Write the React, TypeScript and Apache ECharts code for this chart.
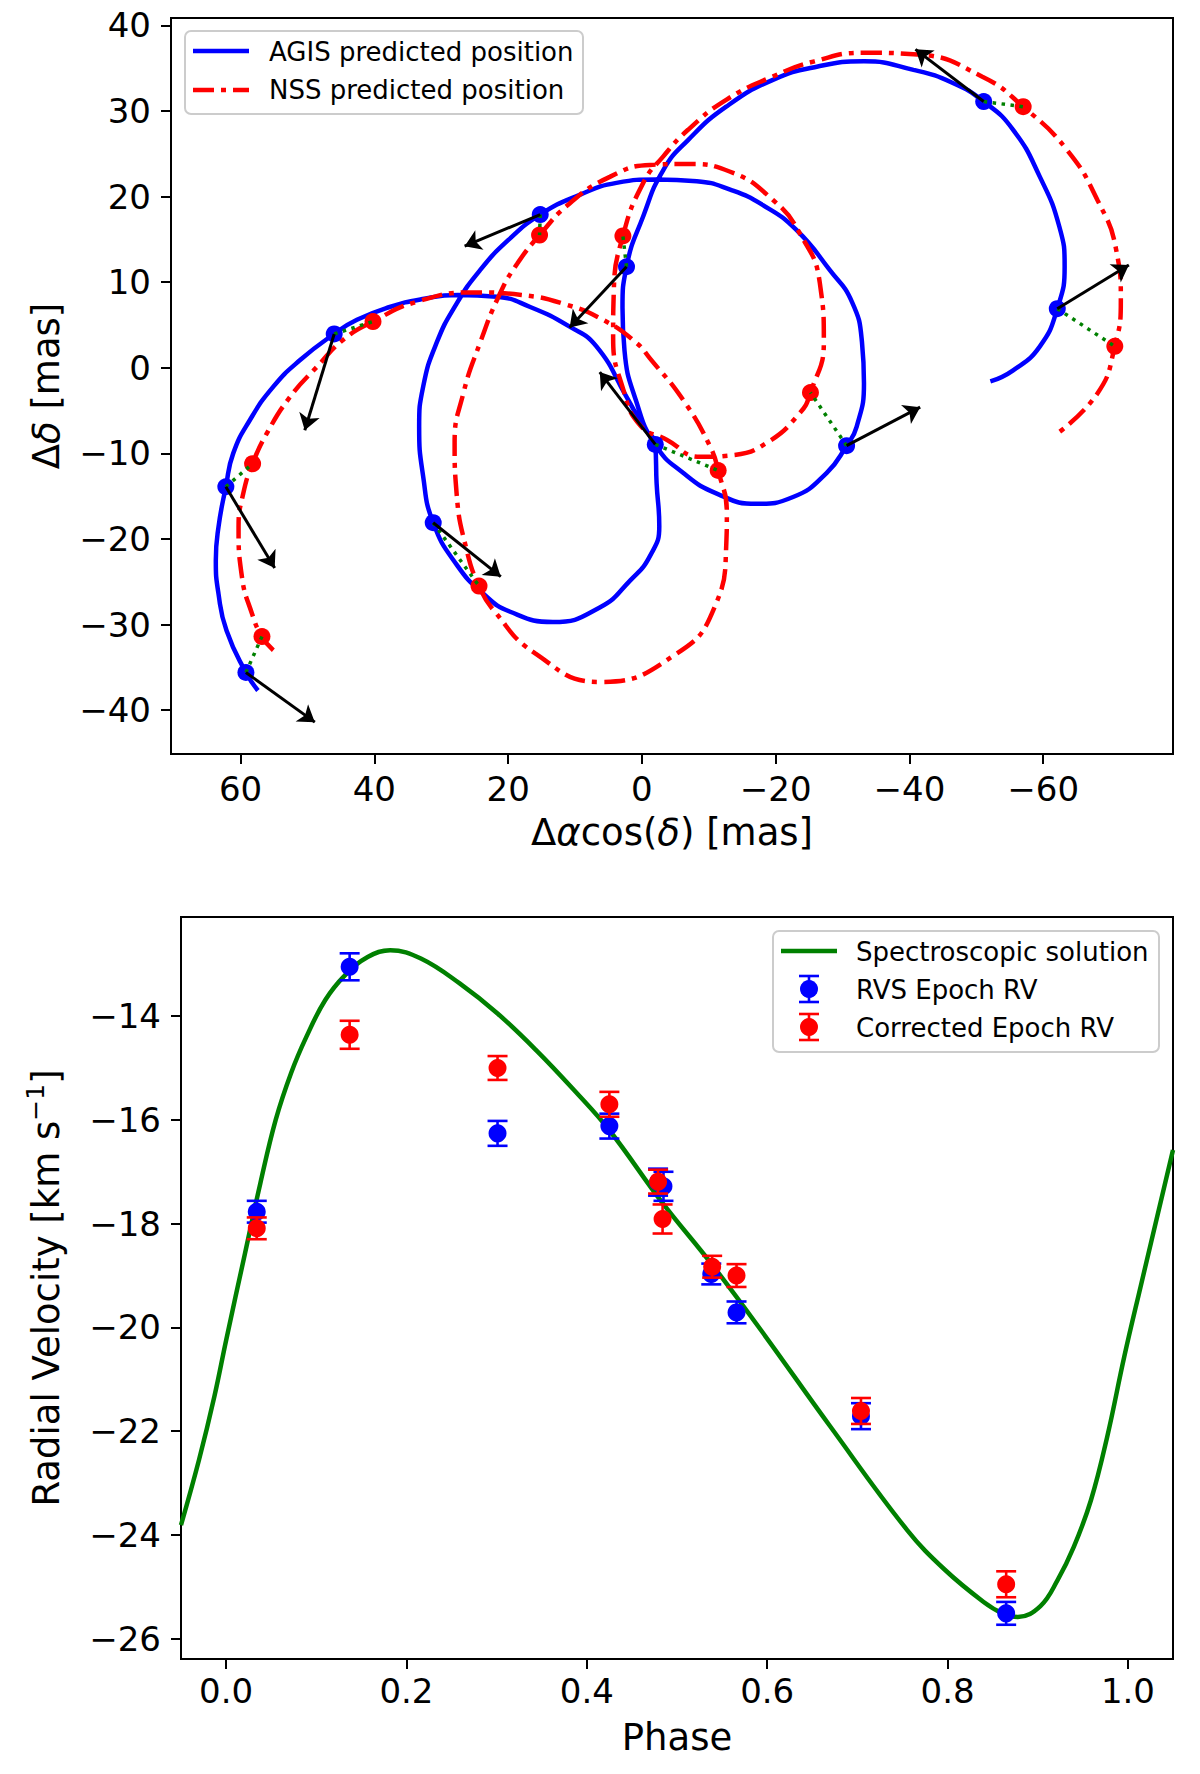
import { useEffect, useRef } from "react";
import * as echarts from "echarts";

// ---- top panel: astrometric tracks (mas) ----
const agisTrack: [number, number][] = [
  [57.4, -37.7], [59.2, -35.6], [62.1, -30.7], [63.3, -26.4], [63.7, -22.5],
  [63.3, -18.6], [62.2, -13.9], [61.1, -10.0], [58.6, -6.1], [55.1, -2.2],
  [51.1, 0.9], [46.0, 3.95], [42.6, 5.6], [37.7, 7.1], [33.0, 8.0],
  [27.5, 8.5], [21.7, 8.3], [16.7, 7.1], [10.8, 4.8], [6.8, 2.5],
  [2.3, -3.4], [-0.2, -6.9], [-2.0, -9.0], [-2.2, -13.5], [-2.6, -18.5],
  [-1.2, -22.0], [1.7, -24.8], [6.3, -28.0], [13.3, -29.7], [19.7, -28.5],
  [23.7, -26.4], [27.7, -23.0], [31.2, -18.1], [32.7, -12.7], [33.3, -6.9],
  [32.7, -2.2], [30.7, 2.9], [27.7, 7.5], [24.2, 11.4], [20.0, 14.9],
  [15.2, 17.9], [9.3, 20.2], [3.8, 21.6], [-2.2, 22.0], [-8.2, 21.8],
  [-13.2, 20.8], [-18.1, 19.0], [-23.1, 16.1], [-28.1, 11.4], [-31.4, 7.7],
  [-32.9, 3.0], [-33.2, -1.8], [-32.1, -6.9], [-30.6, -9.1], [-27.6, -12.3],
  [-22.6, -15.1], [-17.1, -15.9], [-11.2, -14.7], [-6.2, -12.3], [-2.0, -9.0],
  [0.9, -3.8], [2.6, 2.0], [2.9, 7.0], [2.3, 11.8], [-0.2, 17.7],
  [-3.2, 23.1], [-6.9, 26.6], [-12.6, 30.5], [-19.5, 33.6], [-26.3, 35.2],
  [-33.2, 35.8], [-40.6, 34.8], [-46.4, 33.3], [-51.1, 31.1], [-55.5, 27.8],
  [-59.5, 22.3], [-62.4, 16.5], [-63.2, 11.8], [-62.1, 6.9], [-59.5, 2.5],
  [-55.5, -0.3], [-52.1, -1.6],
];

const nssTrack: [number, number][] = [
  [55.1, -33.0], [56.8, -31.4], [58.3, -28.7], [59.8, -24.4], [60.3, -18.6],
  [59.6, -14.7], [58.2, -11.2], [56.1, -7.7], [52.6, -3.4], [48.6, 0.1],
  [44.6, 3.3], [40.2, 5.4], [33.7, 7.7], [25.2, 8.8], [18.0, 8.5],
  [11.8, 7.5], [5.8, 5.6], [0.8, 2.9], [-1.2, 1.1], [-6.2, -3.8],
  [-10.2, -9.2], [-11.4, -12.0], [-12.7, -17.0], [-12.6, -20.9], [-10.9, -27.9],
  [-5.2, -33.4], [6.3, -36.7], [15.9, -33.4], [22.2, -28.3], [24.35, -25.5],
  [26.2, -21.3], [27.7, -14.7], [28.0, -8.8], [26.7, -3.0], [24.2, 2.9],
  [21.2, 8.7], [18.6, 12.2], [15.3, 15.5], [10.8, 19.2], [4.8, 22.3],
  [-1.2, 23.7], [-6.7, 23.8], [-13.2, 22.9], [-19.6, 19.6], [-23.6, 15.7],
  [-26.6, 9.9], [-27.2, 3.0], [-25.2, -2.9], [-23.6, -5.3], [-18.6, -8.8],
  [-13.6, -10.2], [-8.7, -10.4], [-3.7, -8.4], [0.3, -6.7], [2.8, -2.5],
  [4.3, 3.6], [4.2, 9.0], [2.84, 15.4], [-0.2, 21.6], [-3.2, 24.7],
  [-6.9, 27.8], [-12.6, 31.3], [-19.5, 34.0], [-25.8, 35.8], [-33.2, 36.8],
  [-41.2, 36.6], [-50.9, 34.0], [-57.0, 30.5], [-63.5, 25.5], [-68.1, 19.6],
  [-70.9, 13.8], [-71.6, 7.9], [-70.7, 2.5], [-68.1, -3.0], [-61.7, -7.9],
];

// epochs, same order in all three lists
const agisEpochs: [number, number][] = [
  [59.2, -35.6], [62.2, -13.9], [46.0, 3.95], [-2.0, -8.95], [31.2, -18.1],
  [15.2, 17.9], [-30.6, -9.1], [2.3, 11.8], [-51.1, 31.1], [-62.1, 6.9],
];
const nssEpochs: [number, number][] = [
  [56.8, -31.4], [58.2, -11.2], [40.2, 5.4], [-11.4, -12.0], [24.35, -25.5],
  [15.3, 15.5], [-25.2, -2.9], [2.84, 15.4], [-57.0, 30.5], [-70.7, 2.5],
];
const arrowTips: [number, number][] = [
  [48.9, -41.4], [54.9, -23.4], [50.4, -7.3], [6.3, -0.5], [21.1, -24.4],
  [26.5, 14.2], [-41.6, -4.6], [10.8, 4.7], [-40.9, 37.2], [-72.8, 12.0],
];

const topXTicks = [60, 40, 20, 0, -20, -40, -60];
const topYTicks = [-40, -30, -20, -10, 0, 10, 20, 30, 40];

// ---- bottom panel: radial velocity ----
const rvCurve: [number, number][] = [
  [-0.05, -23.81], [-0.03, -22.55], [-0.013, -21.33], [0.0, -20.25], [0.021, -18.57],
  [0.038, -17.22], [0.055, -16.0], [0.072, -15.1], [0.089, -14.4], [0.11, -13.69],
  [0.132, -13.21], [0.157, -12.86], [0.182, -12.73], [0.216, -12.89], [0.259, -13.37],
  [0.301, -13.95], [0.344, -14.66], [0.386, -15.43], [0.425, -16.2], [0.483, -17.58],
  [0.538, -18.77], [0.593, -20.05], [0.67, -21.91], [0.755, -23.9], [0.797, -24.67],
  [0.84, -25.29], [0.861, -25.51], [0.878, -25.58], [0.903, -25.37], [0.922, -24.87],
  [0.94, -24.23], [0.959, -23.33], [0.977, -22.11], [0.996, -20.56], [1.014, -19.22],
  [1.05, -16.58],
];

// [phase, rv, error]
const rvsEpoch: [number, number, number][] = [
  [0.034, -17.77, 0.21], [0.137, -13.05, 0.26], [0.301, -16.26, 0.24],
  [0.425, -16.12, 0.24], [0.479, -17.2, 0.26], [0.485, -17.28, 0.28],
  [0.538, -18.97, 0.2], [0.566, -19.71, 0.21], [0.704, -21.71, 0.25],
  [0.865, -25.51, 0.22],
];
const correctedEpoch: [number, number, number][] = [
  [0.034, -18.09, 0.21], [0.137, -14.36, 0.27], [0.301, -15.0, 0.23],
  [0.425, -15.7, 0.24], [0.479, -17.19, 0.23], [0.484, -17.91, 0.28],
  [0.539, -18.83, 0.21], [0.566, -19.0, 0.22], [0.704, -21.61, 0.25],
  [0.865, -24.95, 0.25],
];

const phaseTicks = [0, 0.2, 0.4, 0.6, 0.8, 1.0];
const rvTicks = [-26, -24, -22, -20, -18, -16, -14];

const FONT = "DejaVu Sans";
const BLUE = "#0000ff";
const RED = "#ff0000";
const GREEN = "#008000";
const DASHDOT = [21, 7, 5, 7];

const minus = (v: number) => (v < 0 ? "\u2212" + String(Math.abs(v)) : String(v));

function axisCommon(ticks: number[], formatter: (v: number) => string, margin: number) {
  return {
    type: "value",
    axisLine: { show: true, onZero: false, lineStyle: { color: "#000", width: 2 } },
    axisTick: {
      show: true,
      length: 10,
      customValues: ticks,
      lineStyle: { color: "#000", width: 2 },
    },
    axisLabel: {
      customValues: ticks,
      formatter,
      fontSize: 34,
      fontFamily: FONT,
      color: "#000",
      margin,
    },
    splitLine: { show: false },
  };
}

const nameStyle = {
  fontSize: 37,
  fontFamily: FONT,
  color: "#000",
  rich: {
    i: { fontSize: 37, fontFamily: FONT, fontStyle: "italic", color: "#000" },
    t: { fontSize: 37, fontFamily: FONT, color: "#000", lineHeight: 46 },
    sup: { fontSize: 25, fontFamily: FONT, color: "#000", verticalAlign: "top", lineHeight: 30 },
  },
};

function errorBars(data: [number, number, number][], color: string, z: number) {
  return {
    type: "custom",
    xAxisIndex: 1,
    yAxisIndex: 1,
    data,
    encode: { x: 0, y: 1 },
    z,
    silent: true,
    renderItem: (_params: any, api: any) => {
      const x = api.value(0);
      const y = api.value(1);
      const e = api.value(2);
      const hi = api.coord([x, y + e]);
      const lo = api.coord([x, y - e]);
      const w = 10;
      const style = { stroke: color, lineWidth: 2.6 };
      return {
        type: "group",
        children: [
          { type: "line", shape: { x1: hi[0], y1: hi[1], x2: lo[0], y2: lo[1] }, style },
          { type: "line", shape: { x1: hi[0] - w, y1: hi[1], x2: hi[0] + w, y2: hi[1] }, style },
          { type: "line", shape: { x1: lo[0] - w, y1: lo[1], x2: lo[0] + w, y2: lo[1] }, style },
        ],
      };
    },
  };
}

function legendText(text: string, x: number, y: number) {
  return {
    type: "text",
    x,
    y,
    z: 101,
    style: { text, fontSize: 26, fontFamily: FONT, fill: "#000", verticalAlign: "middle" },
  };
}

function errIcon(cx: number, cy: number, color: string) {
  const s = { stroke: color, lineWidth: 2.6 };
  return [
    { type: "line", z: 101, shape: { x1: cx, y1: cy - 13, x2: cx, y2: cy + 13 }, style: s },
    { type: "line", z: 101, shape: { x1: cx - 10, y1: cy - 13, x2: cx + 10, y2: cy - 13 }, style: s },
    { type: "line", z: 101, shape: { x1: cx - 10, y1: cy + 13, x2: cx + 10, y2: cy + 13 }, style: s },
    { type: "circle", z: 102, shape: { cx, cy, r: 9 }, style: { fill: color } },
  ];
}

export default function App() {
  const ref = useRef<HTMLDivElement>(null);

  useEffect(() => {
    if (!ref.current) return;
    const chart = echarts.init(ref.current, null, { renderer: "svg" });

    chart.setOption({
      animation: false,
      backgroundColor: "#fff",
      grid: [
        { left: 171, right: 27, top: 18, bottom: 1020, show: true, borderColor: "#000", borderWidth: 2 },
        { left: 181, right: 27, top: 917, bottom: 115, show: true, borderColor: "#000", borderWidth: 2 },
      ],
      xAxis: [
        {
          ...axisCommon(topXTicks, minus, 18),
          gridIndex: 0,
          inverse: true,
          min: -79.4,
          max: 70.4,
          name: "Δ{i|α}cos({i|δ}) [mas]",
          nameLocation: "middle",
          nameGap: 60,
          nameTextStyle: nameStyle,
        },
        {
          ...axisCommon(phaseTicks, (v: number) => v.toFixed(1), 15),
          gridIndex: 1,
          min: -0.05,
          max: 1.05,
          name: "Phase",
          nameLocation: "middle",
          nameGap: 60,
          nameTextStyle: nameStyle,
        },
      ],
      yAxis: [
        {
          ...axisCommon(topYTicks, minus, 20),
          gridIndex: 0,
          min: -45.12,
          max: 40.86,
          name: "Δ{i|δ} [mas]",
          nameLocation: "middle",
          nameGap: 106,
          nameTextStyle: nameStyle,
        },
        {
          ...axisCommon(rvTicks, minus, 20),
          gridIndex: 1,
          min: -26.39,
          max: -12.09,
          name: "{t|Radial Velocity [km s}{sup|\u22121}{t|]}",
          nameLocation: "middle",
          nameGap: 112,
          nameTextStyle: nameStyle,
        },
      ],
      series: [
        {
          name: "AGIS predicted position",
          type: "line",
          xAxisIndex: 0,
          yAxisIndex: 0,
          data: agisTrack,
          showSymbol: false,
          smooth: 0.5,
          silent: true,
          z: 2,
          lineStyle: { color: BLUE, width: 4.5 },
        },
        {
          name: "NSS predicted position",
          type: "line",
          xAxisIndex: 0,
          yAxisIndex: 0,
          data: nssTrack,
          showSymbol: false,
          smooth: 0.5,
          silent: true,
          z: 3,
          lineStyle: { color: RED, width: 4.5, type: DASHDOT, cap: "butt" },
        },
        {
          type: "scatter",
          xAxisIndex: 0,
          yAxisIndex: 0,
          data: agisEpochs,
          symbolSize: 17,
          z: 4,
          itemStyle: { color: BLUE, opacity: 1 },
        },
        {
          type: "scatter",
          xAxisIndex: 0,
          yAxisIndex: 0,
          data: nssEpochs,
          symbolSize: 17,
          z: 5,
          itemStyle: { color: RED, opacity: 1 },
        },
        {
          type: "lines",
          coordinateSystem: "cartesian2d",
          xAxisIndex: 0,
          yAxisIndex: 0,
          z: 6,
          silent: true,
          lineStyle: { color: GREEN, width: 3.5, type: [3.5, 5.5], opacity: 1 },
          data: agisEpochs.map((p, i) => ({ coords: [p, nssEpochs[i]] })),
        },
        {
          type: "lines",
          coordinateSystem: "cartesian2d",
          xAxisIndex: 0,
          yAxisIndex: 0,
          z: 7,
          silent: true,
          symbol: ["none", "arrow"],
          symbolSize: 16,
          lineStyle: { color: "#000", width: 3, opacity: 1 },
          data: agisEpochs.map((p, i) => ({ coords: [p, arrowTips[i]] })),
        },
        {
          name: "Spectroscopic solution",
          type: "line",
          xAxisIndex: 1,
          yAxisIndex: 1,
          data: rvCurve,
          showSymbol: false,
          smooth: 0.4,
          silent: true,
          z: 2,
          lineStyle: { color: GREEN, width: 4.5 },
        },
        errorBars(rvsEpoch, BLUE, 3),
        {
          name: "RVS Epoch RV",
          type: "scatter",
          xAxisIndex: 1,
          yAxisIndex: 1,
          data: rvsEpoch.map((d) => [d[0], d[1]]),
          symbolSize: 18,
          z: 4,
          itemStyle: { color: BLUE, opacity: 1 },
        },
        errorBars(correctedEpoch, RED, 5),
        {
          name: "Corrected Epoch RV",
          type: "scatter",
          xAxisIndex: 1,
          yAxisIndex: 1,
          data: correctedEpoch.map((d) => [d[0], d[1]]),
          symbolSize: 18,
          z: 6,
          itemStyle: { color: RED, opacity: 1 },
        },
      ],
      graphic: [
        // top legend
        {
          type: "rect",
          z: 100,
          shape: { x: 185, y: 31, width: 398, height: 83, r: 6 },
          style: { fill: "rgba(255,255,255,0.8)", stroke: "#cccccc", lineWidth: 2 },
        },
        {
          type: "line",
          z: 101,
          shape: { x1: 193, y1: 51, x2: 249, y2: 51 },
          style: { stroke: BLUE, lineWidth: 4.5 },
        },
        {
          type: "line",
          z: 101,
          shape: { x1: 193, y1: 90, x2: 249, y2: 90 },
          style: { stroke: RED, lineWidth: 4.5, lineDash: DASHDOT },
        },
        legendText("AGIS predicted position", 269, 52),
        legendText("NSS predicted position", 269, 90),
        // bottom legend
        {
          type: "rect",
          z: 100,
          shape: { x: 773, y: 931, width: 386, height: 121, r: 6 },
          style: { fill: "rgba(255,255,255,0.8)", stroke: "#cccccc", lineWidth: 2 },
        },
        {
          type: "line",
          z: 101,
          shape: { x1: 781, y1: 951, x2: 837, y2: 951 },
          style: { stroke: GREEN, lineWidth: 4.5 },
        },
        ...errIcon(809, 989, BLUE),
        ...errIcon(809, 1027, RED),
        legendText("Spectroscopic solution", 856, 952),
        legendText("RVS Epoch RV", 856, 990),
        legendText("Corrected Epoch RV", 856, 1028),
      ],
    });

    return () => {
      chart.dispose();
    };
  }, []);

  return (
    <div
      ref={ref}
      style={{ position: "absolute", left: 0, top: 0, width: 1200, height: 1774, background: "#fff" }}
    />
  );
}
